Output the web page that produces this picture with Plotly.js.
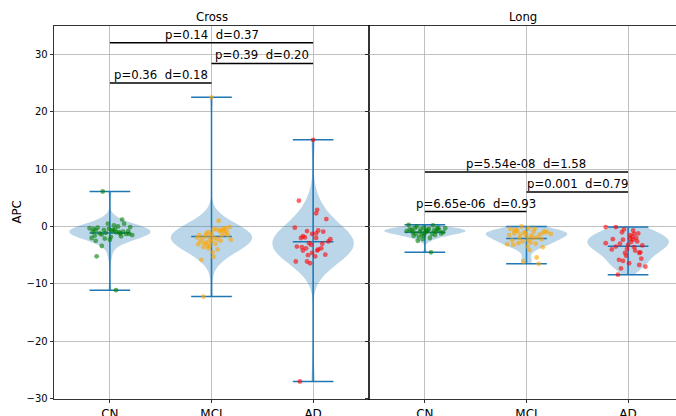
<!DOCTYPE html>
<html>
<head>
<meta charset="utf-8">
<script src="https://cdn.plot.ly/plotly-3.0.1.min.js"></script>
<style>html,body{margin:0;padding:0;background:#fff;}#chart{width:676px;height:416px;}</style>
</head>
<body>
<div id="chart"></div>
<script>
// ---------------- data ----------------
const categories = ['CN', 'MCI', 'AD'];
const positions = [1, 2, 3];
const panelTitles = ['Cross', 'Long'];
const yTickVals = [-30, -20, -10, 0, 10, 20, 30];
const yTickText = ['\u221230', '\u221220', '\u221210', '0', '10', '20', '30'];

// Cross-sectional APC values and horizontal jitter
const crossCN = [6.1, 1.2, 0.5, 0.0, 0.5, -0.2, -0.4, -0.6, -0.8, -1.0, -1.1, -1.2, -1.3, -1.4, -1.5, -0.3, -0.5, -0.7, -0.9, -1.6, -1.8, -2.0, -2.3, -2.5, -3.4, -5.2, -11.1, -0.1, -0.6, -1.0, -1.2, -0.8, 0.2, -1.7, -0.4, -1.3, -2.1, -0.9];
const crossCNJit = [-0.07, 0.12, -0.02, 0.08, 0.14, -0.12, -0.16, 0.03, 0.18, 0.06, -0.04, 0.10, 0.16, -0.08, 0.22, -0.20, 0.05, -0.14, 0.13, -0.15, 0.01, -0.18, 0.00, -0.14, -0.08, -0.13, 0.06, 0.20, -0.06, 0.09, -0.10, 0.02, 0.04, 0.11, -0.01, 0.19, -0.05, -0.17];

const crossMCI = [1.0, -0.1, -0.6, -0.9, -2.3, -5.8, -5.3, -4.5, -3.8, -3.6, -2.6, -1.7, -1.2, -1.3, -1.0, -1.9, -1.5, -2.0, -2.2, -1.6, -0.4, -0.3, -0.5, -0.8, -2.4, -2.9, -3.0, -3.3, -2.6, -1.2, -1.5, -2.1, -1.8, -0.5, -0.8, -12.2, 22.5, -3.1, -4.0, -2.8, -2.5, -3.4];
const crossMCIJit = [0.07, 0.18, 0.09, 0.15, 0.19, -0.10, 0.02, 0.01, -0.03, -0.08, -0.11, -0.06, -0.05, 0.00, -0.03, -0.14, -0.12, 0.03, 0.06, 0.10, 0.12, 0.14, 0.05, 0.08, -0.02, -0.07, 0.04, -0.04, 0.00, 0.13, 0.16, -0.09, -0.01, 0.02, 0.11, -0.08, 0.00, -0.13, 0.06, -0.05, 0.09, -0.02];

const crossAD = [4.5, 2.9, 2.3, 1.3, -0.2, -0.8, -0.7, -0.9, -1.2, -1.7, -2.0, -1.3, -2.2, -2.6, -2.0, -2.9, -3.2, -3.5, -3.6, -3.8, -4.0, -3.8, -4.2, -4.6, -4.2, -4.9, -5.2, -6.1, -6.1, -6.4, 15.1, -27.0, -1.9, -3.0, -5.0];
const crossADJit = [-0.14, 0.04, 0.03, 0.13, -0.18, -0.06, 0.05, 0.10, 0.03, -0.10, -0.12, -0.01, 0.17, 0.15, 0.03, -0.04, -0.02, -0.16, -0.11, -0.07, 0.05, 0.08, -0.10, -0.01, 0.04, 0.12, 0.02, -0.06, -0.17, -0.03, 0.00, -0.13, -0.08, 0.09, -0.05];

// Longitudinal APC values and jitter
const longCN = [0.3, 0.2, 0.0, -0.2, -0.4, -0.6, -0.5, -0.4, -0.3, -1.2, -1.2, -1.8, -1.6, -2.0, -2.5, -4.5, -0.8, -1.0, -0.9, -0.7, -0.6, -1.4, -1.1, -1.3, -0.3, -0.9, -1.0, -0.5, -0.6, -0.9, -1.5, -2.2, -0.2, -1.6, -0.8];
const longCNJit = [-0.16, 0.08, -0.08, -0.01, 0.04, -0.13, -0.04, 0.12, 0.20, 0.16, -0.09, -0.06, -0.01, 0.05, -0.07, 0.06, -0.18, -0.12, 0.02, 0.09, 0.14, -0.03, 0.00, 0.07, -0.10, 0.11, 0.18, -0.15, 0.03, -0.05, 0.10, -0.02, 0.13, -0.11, 0.01];

const longMCI = [-0.4, -0.7, 0.0, -0.3, -0.4, -1.1, -1.0, -1.3, -1.5, -1.2, -2.0, -2.6, -2.4, -2.2, -3.1, -3.2, -3.5, -4.1, -3.6, -5.4, -6.1, -6.5, -0.8, -1.0, -1.6, -1.9, -2.4, -0.9, -1.4, -1.7, -0.6, -1.4, -2.8, -1.2, -0.8, -2.0, -2.9, -3.0];
const longMCIJit = [-0.16, -0.12, -0.05, 0.02, 0.08, 0.16, 0.20, 0.24, -0.17, -0.12, -0.07, -0.04, 0.02, 0.15, -0.19, -0.13, 0.01, 0.03, 0.16, 0.10, -0.03, 0.12, -0.09, -0.02, 0.05, 0.10, -0.14, 0.07, -0.06, 0.00, -0.10, 0.13, 0.04, -0.01, 0.18, 0.06, -0.08, 0.09];

const longAD = [-0.1, -0.1, -0.7, -1.5, -1.2, -2.3, -2.2, -2.9, -2.3, -3.6, -4.6, -5.1, -4.6, -6.4, -6.7, -7.0, -7.3, -8.4, -2.0, -2.7, -3.0, -3.3, -3.9, -4.2, -3.5, -1.8, -1.0, -2.6, -3.2, -0.5, -5.6, -4.0, -2.1, -1.3, -5.8, -4.5, -6.0];
const longADJit = [-0.22, -0.12, 0.05, 0.02, 0.10, -0.05, -0.15, -0.22, 0.05, 0.06, -0.03, -0.02, 0.11, 0.01, 0.11, 0.17, -0.07, -0.10, 0.08, 0.03, -0.08, 0.14, -0.01, 0.07, -0.12, 0.04, -0.06, 0.09, 0.00, -0.04, 0.13, -0.16, 0.02, 0.06, -0.09, 0.12, -0.05];

// Pairwise comparison labels: [from, to], bracket height, text
const crossPairs = [[1, 2], [2, 3], [1, 3]];
const crossLevels = [25.0, 28.4, 32.0];
const crossLabels = ['p=0.36  d=0.18', 'p=0.39  d=0.20', 'p=0.14  d=0.37'];
const longPairs = [[1, 2], [2, 3], [1, 3]];
const longLevels = [2.6, 6.0, 9.5];
const longLabels = ['p=6.65e-06  d=0.93', 'p=0.001  d=0.79', 'p=5.54e-08  d=1.58'];

// ---------------- styles ----------------
const pointColors = ['#008000', '#FFA500', '#FF0000'];
const violinBlue = '#1f77b4';
const FONT = 'DejaVu Sans, Liberation Sans, sans-serif';

// ---------------- build ----------------
function stats(v) {
  const n = v.length;
  const mean = v.reduce((a, b) => a + b, 0) / n;
  const sd = Math.sqrt(v.reduce((a, b) => a + (b - mean) * (b - mean), 0) / (n - 1));
  return { n, mean, min: Math.min(...v), max: Math.max(...v), bw: sd * Math.pow(n, -0.2) };
}

const panels = [
  { ax: 'x', ay: 'y', groups: [crossCN, crossMCI, crossAD], jit: [crossCNJit, crossMCIJit, crossADJit], pairs: crossPairs, levels: crossLevels, labels: crossLabels },
  { ax: 'x2', ay: 'y2', groups: [longCN, longMCI, longAD], jit: [longCNJit, longMCIJit, longADJit], pairs: longPairs, levels: longLevels, labels: longLabels }
];

const violins = [], lines = [], points = [], shapes = [], annotations = [];
const capHalf = 0.2;

panels.forEach((p, pi) => {
  const lx = [], ly = [];
  p.groups.forEach((vals, gi) => {
    const pos = positions[gi];
    const s = stats(vals);
    violins.push({
      type: 'violin', x0: pos, y: vals, name: categories[gi] + pi,
      xaxis: p.ax, yaxis: p.ay,
      width: 0.8, spanmode: 'hard', bandwidth: s.bw, scalemode: 'width', side: 'both',
      fillcolor: 'rgba(31,119,180,0.3)', line: { color: 'rgba(31,119,180,0.0)', width: 0 },
      points: false, box: { visible: false }, meanline: { visible: false },
      hoverinfo: 'skip', showlegend: false
    });
    lx.push(pos, pos, null); ly.push(s.min, s.max, null);
    [s.max, s.min, s.mean].forEach(v => { lx.push(pos - capHalf, pos + capHalf, null); ly.push(v, v, null); });
    points.push({
      type: 'scatter', mode: 'markers', xaxis: p.ax, yaxis: p.ay,
      x: vals.map((v, i) => pos + p.jit[gi][i]), y: vals,
      marker: { size: 4.8, color: pointColors[gi], opacity: 0.6, line: { width: 0 } },
      hoverinfo: 'skip', showlegend: false
    });
  });
  lines.push({ type: 'scatter', mode: 'lines', x: lx, y: ly, xaxis: p.ax, yaxis: p.ay,
    line: { color: violinBlue, width: 1.5 }, hoverinfo: 'skip', showlegend: false });

  p.pairs.forEach((pr, k) => {
    const y = p.levels[k];
    shapes.push({ type: 'line', xref: p.ax, yref: p.ay, x0: pr[0], x1: pr[1], y0: y, y1: y,
      line: { color: '#000', width: 1.5 } });
    annotations.push({ xref: p.ax, yref: p.ay, x: (pr[0] + pr[1]) / 2, y: y,
      text: p.labels[k].replace(/  /g, '\u00a0 '), showarrow: false, xanchor: 'center', yanchor: 'bottom',
      yshift: 0, borderpad: 0, font: { family: FONT, size: 11.7, color: '#000' } });
  });
  annotations.push({ xref: p.ax + ' domain', yref: p.ay + ' domain', x: 0.5, y: 1, yanchor: 'bottom',
    xanchor: 'center', text: panelTitles[pi], showarrow: false, yshift: 1, borderpad: 0,
    font: { family: FONT, size: 11.7, color: '#000' } });
});

annotations.push({ xref: 'paper', yref: 'paper', x: (16 - 54) / 622, y: 0.5, text: 'APC', textangle: -90,
  showarrow: false, xanchor: 'center', yanchor: 'middle', font: { family: FONT, size: 11.7, color: '#000' } });

const yRange = [-30.05, 34.93];
const splitFrac = 315 / 622;
const axCommon = {
  ticks: 'outside', ticklen: 3.5, tickwidth: 0.8, tickcolor: '#000',
  showgrid: true, gridcolor: '#b0b0b0', gridwidth: 0.8, zeroline: false,
  showline: true, linecolor: '#000', linewidth: 0.8,
  tickfont: { family: FONT, size: 10, color: '#000' }
};
const xTickFont = { family: FONT, size: 12, color: '#000' };

const layout = {
  width: 676, height: 416,
  margin: { l: 54, r: 0, t: 26, b: 16.7, pad: 0 },
  paper_bgcolor: '#fff', plot_bgcolor: '#fff',
  font: { family: FONT, color: '#000' },
  showlegend: false, violinmode: 'overlay',
  xaxis: Object.assign({}, axCommon, { domain: [0, splitFrac], range: [0.45, 3.55], tickvals: positions, ticktext: categories, mirror: true, anchor: 'y', tickfont: xTickFont }),
  yaxis: Object.assign({}, axCommon, { domain: [0, 1], range: yRange, tickvals: yTickVals, ticktext: yTickText, mirror: true, anchor: 'x' }),
  xaxis2: Object.assign({}, axCommon, { domain: [splitFrac, 1], range: [0.45, 0.45 + 307 / 101.6], tickvals: positions, ticktext: categories, mirror: true, anchor: 'y2', tickfont: xTickFont }),
  yaxis2: Object.assign({}, axCommon, { domain: [0, 1], range: yRange, tickvals: yTickVals, ticktext: yTickText, showticklabels: false, mirror: false, anchor: 'x2' }),
  shapes: shapes, annotations: annotations
};

Plotly.newPlot('chart', violins.concat(lines, points), layout, { staticPlot: true, displayModeBar: false });
</script>
</body>
</html>
